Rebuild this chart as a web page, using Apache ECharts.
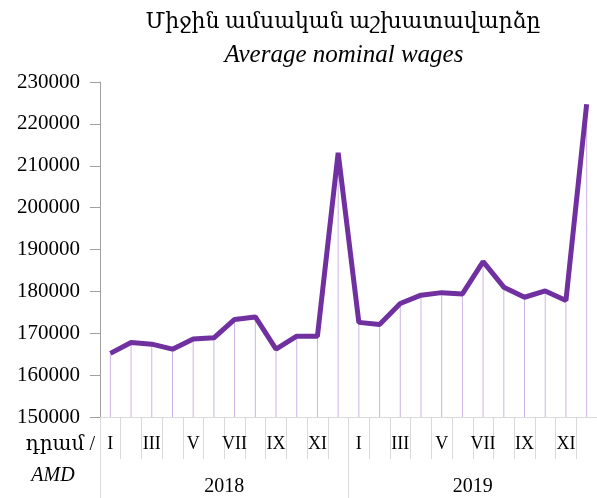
<!DOCTYPE html>
<html>
<head>
    <meta charset="utf-8"/>
    <title>Average nominal wages</title>
    <script src="https://cdn.jsdelivr.net/npm/echarts@6/dist/echarts.min.js"></script>
    <style>
        html, body { margin: 0; padding: 0; background: #fff; }
        #main { width: 597px; height: 498px; }
    </style>
</head>
<body>
<div id="main"></div>
<script>
    // 数据
    var months = ['I','II','III','IV','V','VI','VII','VIII','IX','X','XI','XII',
                  'I','II','III','IV','V','VI','VII','VIII','IX','X','XI','XII'];
    var years = ['2018', '2019'];
    var wages = [165200, 167800, 167400, 166200, 168600, 168900, 173300, 173900, 166200, 169300, 169300, 213100,
                 172600, 172100, 177100, 179100, 179700, 179400, 187100, 181000, 178600, 180100, 177800, 224700];
    var yTicks = [150000, 230000, 10000]; // min, max, interval

    var serif = "'Liberation Serif', 'DejaVu Serif', serif";
    var myChart = echarts.init(document.getElementById('main'));
    var option = {
        animation: false,
        grid: { left: 100, top: 82, width: 501, bottom: 81 },
        graphic: [
            { type: 'text', x: 343, y: 22, style: { text: 'Միջին ամսական աշխատավարձը', font: '22px ' + serif, fill: '#000', textAlign: 'center', textVerticalAlign: 'middle' } },
            { type: 'text', x: 344, y: 55, style: { text: 'Average nominal wages', font: 'italic 25px ' + serif, fill: '#000', textAlign: 'center', textVerticalAlign: 'middle' } },
            { type: 'text', x: 95, y: 445, style: { text: 'դրամ /', font: '20px ' + serif, fill: '#000', textAlign: 'right', textVerticalAlign: 'middle' } },
            { type: 'text', x: 53, y: 476, style: { text: 'AMD', font: 'italic 20px ' + serif, fill: '#000', textAlign: 'center', textVerticalAlign: 'middle' } }
        ],
        xAxis: [
            {
                type: 'category',
                data: months,
                boundaryGap: true,
                axisLine: { lineStyle: { color: '#d9d9d9', width: 1 } },
                axisTick: { show: true, interval: 0, length: 42, lineStyle: { color: '#d9d9d9' } },
                axisLabel: { interval: 1, margin: 18, fontFamily: serif, fontSize: 18, color: '#000' }
            },
            {
                type: 'category',
                data: years,
                position: 'bottom',
                boundaryGap: true,
                axisLine: { show: false },
                axisTick: { show: true, length: 81, lineStyle: { color: '#d9d9d9' } },
                axisLabel: { margin: 60, fontFamily: serif, fontSize: 20, color: '#000' }
            }
        ],
        yAxis: {
            type: 'value',
            min: yTicks[0],
            max: yTicks[1],
            interval: yTicks[2],
            startValue: yTicks[0],
            axisLine: { show: true, lineStyle: { color: '#a0a0a0' } },
            axisTick: { show: true, length: 10, lineStyle: { color: '#a0a0a0' } },
            axisLabel: {
                margin: 20, fontFamily: serif, fontSize: 21, color: '#000',
                formatter: function (v) { return String(v); }
            },
            splitLine: { show: false }
        },
        series: [
            {
                // 垂直线
                type: 'bar',
                data: wages,
                barWidth: 1,
                clip: true,
                itemStyle: { color: '#cdb3e6' },
                z: 1
            },
            {
                type: 'line',
                data: wages,
                showSymbol: false,
                lineStyle: { color: '#7030a0', width: 5 },
                itemStyle: { color: '#7030a0' },
                z: 3
            }
        ]
    };
    myChart.setOption(option);
</script>
</body>
</html>
